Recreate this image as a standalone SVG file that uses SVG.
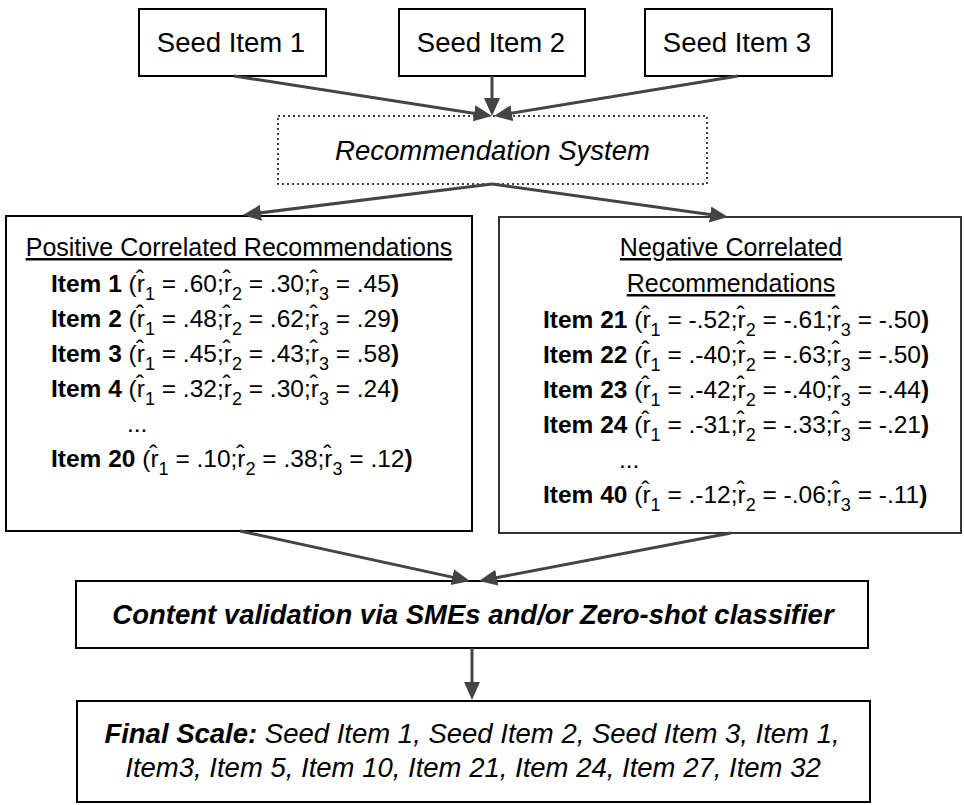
<svg xmlns="http://www.w3.org/2000/svg" width="964" height="805" viewBox="0 0 964 805">
<defs>
<marker id="ah" markerUnits="userSpaceOnUse" markerWidth="20" markerHeight="18" refX="14" refY="8" orient="auto">
<path d="M0,0 L18,8 L0,16 z" fill="#444"/>
</marker>
<style>
text{font-family:"Liberation Sans",Arial,sans-serif;fill:#000}
.box{fill:#fff;stroke:#000;stroke-width:2}
.dot{fill:#fff;stroke:#000;stroke-width:1.5;stroke-dasharray:2 3}
.big{font-size:27.5px}
.mid{font-size:25px}
.row{font-size:24.5px}
.it{font-style:italic}
.b{font-weight:bold}
.sub{font-size:18px}
.u{text-decoration:underline}
.conn line{stroke:#444;stroke-width:3;marker-end:url(#ah)}
</style>
</defs>
<rect width="964" height="805" fill="#fff"/>
<g id="seed1"><rect class="box" x="139" y="9" width="187" height="67"/><text class="big" x="231" y="52" text-anchor="middle">Seed Item 1</text></g>
<g id="seed2"><rect class="box" x="399" y="9" width="186" height="67"/><text class="big" x="491" y="52" text-anchor="middle">Seed Item 2</text></g>
<g id="seed3"><rect class="box" x="645" y="9" width="187" height="67"/><text class="big" x="737" y="52" text-anchor="middle">Seed Item 3</text></g>
<g id="recsys"><rect class="dot" x="278" y="116" width="429" height="68"/><text class="big it" x="492.5" y="160" text-anchor="middle">Recommendation System</text></g>
<g id="positive">
<rect class="box" x="6" y="216" width="466" height="315"/>
<text class="mid u" x="239" y="256" text-anchor="middle">Positive Correlated Recommendations</text>
<text class="row" x="51" y="292"><tspan class="b">Item 1</tspan> (r̂<tspan class="sub" dy="8">1</tspan><tspan dy="-8"> = .60;r̂</tspan><tspan class="sub" dy="8">2</tspan><tspan dy="-8"> = .30;r̂</tspan><tspan class="sub" dy="8">3</tspan><tspan dy="-8"> = .45</tspan><tspan class="b">)</tspan></text>
<text class="row" x="51" y="327"><tspan class="b">Item 2</tspan> (r̂<tspan class="sub" dy="8">1</tspan><tspan dy="-8"> = .48;r̂</tspan><tspan class="sub" dy="8">2</tspan><tspan dy="-8"> = .62;r̂</tspan><tspan class="sub" dy="8">3</tspan><tspan dy="-8"> = .29</tspan><tspan class="b">)</tspan></text>
<text class="row" x="51" y="362"><tspan class="b">Item 3</tspan> (r̂<tspan class="sub" dy="8">1</tspan><tspan dy="-8"> = .45;r̂</tspan><tspan class="sub" dy="8">2</tspan><tspan dy="-8"> = .43;r̂</tspan><tspan class="sub" dy="8">3</tspan><tspan dy="-8"> = .58</tspan><tspan class="b">)</tspan></text>
<text class="row" x="51" y="397"><tspan class="b">Item 4</tspan> (r̂<tspan class="sub" dy="8">1</tspan><tspan dy="-8"> = .32;r̂</tspan><tspan class="sub" dy="8">2</tspan><tspan dy="-8"> = .30;r̂</tspan><tspan class="sub" dy="8">3</tspan><tspan dy="-8"> = .24</tspan><tspan class="b">)</tspan></text>
<text class="row" x="127" y="432">...</text>
<text class="row" x="51" y="467"><tspan class="b">Item 20</tspan> (r̂<tspan class="sub" dy="8">1</tspan><tspan dy="-8"> = .10;r̂</tspan><tspan class="sub" dy="8">2</tspan><tspan dy="-8"> = .38;r̂</tspan><tspan class="sub" dy="8">3</tspan><tspan dy="-8"> = .12</tspan><tspan class="b">)</tspan></text>
</g>
<g id="negative">
<rect class="box" x="499" y="217" width="462" height="316" style="stroke:#333"/>
<text class="mid u" x="731" y="256" text-anchor="middle">Negative Correlated</text>
<text class="mid u" x="731" y="292" text-anchor="middle">Recommendations</text>
<text class="row" x="543" y="328"><tspan class="b">Item 21</tspan> (r̂<tspan class="sub" dy="8">1</tspan><tspan dy="-8"> = -.52;r̂</tspan><tspan class="sub" dy="8">2</tspan><tspan dy="-8"> = -.61;r̂</tspan><tspan class="sub" dy="8">3</tspan><tspan dy="-8"> = -.50</tspan><tspan class="b">)</tspan></text>
<text class="row" x="543" y="363"><tspan class="b">Item 22</tspan> (r̂<tspan class="sub" dy="8">1</tspan><tspan dy="-8"> = .-40;r̂</tspan><tspan class="sub" dy="8">2</tspan><tspan dy="-8"> = -.63;r̂</tspan><tspan class="sub" dy="8">3</tspan><tspan dy="-8"> = -.50</tspan><tspan class="b">)</tspan></text>
<text class="row" x="543" y="398"><tspan class="b">Item 23</tspan> (r̂<tspan class="sub" dy="8">1</tspan><tspan dy="-8"> = .-42;r̂</tspan><tspan class="sub" dy="8">2</tspan><tspan dy="-8"> = -.40;r̂</tspan><tspan class="sub" dy="8">3</tspan><tspan dy="-8"> = -.44</tspan><tspan class="b">)</tspan></text>
<text class="row" x="543" y="433"><tspan class="b">Item 24</tspan> (r̂<tspan class="sub" dy="8">1</tspan><tspan dy="-8"> = .-31;r̂</tspan><tspan class="sub" dy="8">2</tspan><tspan dy="-8"> = -.33;r̂</tspan><tspan class="sub" dy="8">3</tspan><tspan dy="-8"> = -.21</tspan><tspan class="b">)</tspan></text>
<text class="row" x="619" y="468">...</text>
<text class="row" x="543" y="503"><tspan class="b">Item 40</tspan> (r̂<tspan class="sub" dy="8">1</tspan><tspan dy="-8"> = .-12;r̂</tspan><tspan class="sub" dy="8">2</tspan><tspan dy="-8"> = -.06;r̂</tspan><tspan class="sub" dy="8">3</tspan><tspan dy="-8"> = -.11</tspan><tspan class="b">)</tspan></text>
</g>
<g id="validation"><rect class="box" x="76" y="581" width="792" height="67"/><text class="big b it" x="473" y="624" text-anchor="middle">Content validation via SMEs and/or Zero-shot classifier</text></g>
<g id="final"><rect class="box" x="77" y="701" width="793" height="101"/>
<text class="big it" x="472" y="743" text-anchor="middle"><tspan class="b">Final Scale:</tspan> Seed Item 1, Seed Item 2, Seed Item 3, Item 1,</text>
<text class="big it" x="473" y="777" text-anchor="middle">Item3, Item 5, Item 10, Item 21, Item 24, Item 27, Item 32</text>
</g>
<g id="connectors" class="conn">
<line x1="234" y1="76" x2="488" y2="115.4"/>
<line x1="492" y1="76" x2="492" y2="112"/>
<line x1="738" y1="76" x2="498" y2="115.4"/>
<line x1="492" y1="184" x2="247" y2="214.5"/>
<line x1="492" y1="184" x2="724" y2="216.4"/>
<line x1="240" y1="531" x2="466" y2="580.1"/>
<line x1="731" y1="533" x2="483" y2="580.3"/>
<line x1="472" y1="648" x2="472" y2="696"/>
</g>
</svg>
